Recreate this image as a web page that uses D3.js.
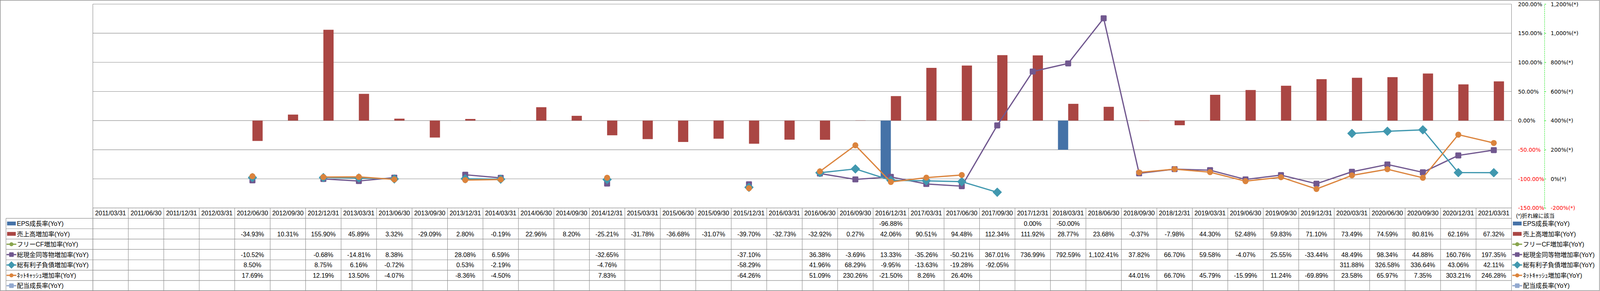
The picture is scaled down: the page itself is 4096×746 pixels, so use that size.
<!DOCTYPE html>
<html><head><meta charset="utf-8">
<script src="https://cdn.jsdelivr.net/npm/d3@7"></script>
<style>html,body{margin:0;padding:0;background:#fff;overflow:hidden}</style>
</head><body><svg id="c" width="4096" height="746"></svg>
<script>
const dates = ["2011/03/31","2011/06/30","2011/12/31","2012/03/31","2012/06/30","2012/09/30","2012/12/31","2013/03/31","2013/06/30","2013/09/30","2013/12/31","2014/03/31","2014/06/30","2014/09/30","2014/12/31","2015/03/31","2015/06/30","2015/09/30","2015/12/31","2016/03/31","2016/06/30","2016/09/30","2016/12/31","2017/03/31","2017/06/30","2017/09/30","2017/12/31","2018/03/31","2018/06/30","2018/09/30","2018/12/31","2019/03/31","2019/06/30","2019/09/30","2019/12/31","2020/03/31","2020/06/30","2020/09/30","2020/12/31","2021/03/31"];
const epsGrowth = [null,null,null,null,null,null,null,null,null,null,null,null,null,null,null,null,null,null,null,null,null,null,-96.88,null,null,null,0.00,-50.00,null,null,null,null,null,null,null,null,null,null,null,null];
const salesGrowth = [null,null,null,null,-34.93,10.31,155.90,45.89,3.32,-29.09,2.80,-0.19,22.96,8.20,-25.21,-31.78,-36.68,-31.07,-39.70,-32.73,-32.92,0.27,42.06,90.51,94.48,112.34,111.92,28.77,23.68,-0.37,-7.98,44.30,52.48,59.83,71.10,73.49,74.59,80.81,62.16,67.32];
const freeCFGrowth = [null,null,null,null,null,null,null,null,null,null,null,null,null,null,null,null,null,null,null,null,null,null,null,null,null,null,null,null,null,null,null,null,null,null,null,null,null,null,null,null];
const cashGrowth = [null,null,null,null,-10.52,null,-0.68,-14.81,8.38,null,28.08,6.59,null,null,-32.65,null,null,null,-37.10,null,36.38,-3.69,13.33,-35.26,-50.21,367.01,736.99,792.59,1102.41,37.82,66.70,59.58,-4.07,25.55,-33.44,48.49,98.34,44.88,160.76,197.35];
const debtGrowth = [null,null,null,null,8.50,null,8.75,6.16,-0.72,null,0.53,-2.19,null,null,-4.76,null,null,null,-58.29,null,41.96,68.29,-9.95,-13.63,-19.28,-92.05,null,null,null,null,null,null,null,null,null,311.88,326.58,336.64,43.06,42.11];
const netCashGrowth = [null,null,null,null,17.69,null,12.19,13.50,-4.07,null,-8.36,-4.50,null,null,7.83,null,null,null,-64.26,null,51.09,230.26,-21.50,8.26,26.40,null,null,null,null,44.01,66.70,45.79,-15.99,11.24,-69.89,23.58,65.97,7.35,303.21,246.28];
const dividendGrowth = [null,null,null,null,null,null,null,null,null,null,null,null,null,null,null,null,null,null,null,null,null,null,null,null,null,null,null,null,null,null,null,null,null,null,null,null,null,null,null,null];
const seriesNames = ["EPS成長率(YoY)","売上高増加率(YoY)","フリーCF増加率(YoY)","総現金同等物増加率(YoY)","総有利子負債増加率(YoY)","ﾈｯﾄｷｬｯｼｭ増加率(YoY)","配当成長率(YoY)"];
const leftTicks = [-150,-100,-50,0,50,100,150,200];
const rightTicks = [-200,0,200,400,600,800,1000,1200];
const noteText = "(*)折れ線に該当";

const allSeries = [epsGrowth, salesGrowth, freeCFGrowth, cashGrowth, debtGrowth, netCashGrowth, dividendGrowth];
const colors = ["#4572A7","#AA4643","#89A54E","#71588F","#4198AF","#DB843D","#93A9CF"];
const kinds = ["bar","bar","circle","square","diamond","circle","square"];

const loc = d3.formatLocale({decimal: ".", thousands: ",", grouping: [3], currency: ["", ""], minus: "-"});

const S = 4096/5877;
const svg = d3.select("#c");
const g = svg.append("g").attr("transform", `scale(${S})`);
const FONT = "'Liberation Sans','Noto Sans CJK JP',sans-serif";
const AXFONT = "'DejaVu Sans',sans-serif";
const GRID = "#8a8a8a";

const PL = 341, PR = 5552, PT = 15, PB = 765;
const x = d3.scaleBand().domain(dates).range([PL, PR]);
const yL = d3.scaleLinear().domain([-150, 200]).range([PB, PT]);
const yR = d3.scaleLinear().domain([-200, 1200]).range([PB, PT]);
const rowTop = 803, rowBot = 1070, rowH = (rowBot - rowTop) / 7;
const rowC = i => rowTop + rowH * (i + 0.5);

// outer border
g.append("rect").attr("x", 1).attr("y", 1).attr("width", 5874).attr("height", 1068)
  .attr("fill", "none").attr("stroke", GRID).attr("stroke-width", 2);

// gridlines
g.append("g").selectAll("line").data(leftTicks).join("line")
  .attr("x1", PL).attr("x2", PR).attr("y1", d => yL(d)).attr("y2", d => yL(d))
  .attr("stroke", GRID).attr("stroke-width", 1.6);
g.append("line").attr("x1", PL).attr("x2", PL).attr("y1", PT).attr("y2", rowBot).attr("stroke", GRID).attr("stroke-width", 1.6);
g.append("line").attr("x1", PR).attr("x2", PR).attr("y1", PT).attr("y2", rowBot).attr("stroke", GRID).attr("stroke-width", 1.6);

// bars
const bw = x.bandwidth() * 0.288;
[0, 1].forEach(si => {
  const data = allSeries[si].map((v, i) => ({ d: dates[i], v })).filter(o => o.v != null);
  g.append("g").selectAll("rect").data(data).join("rect")
    .attr("x", o => x(o.d) + x.bandwidth() / 2 + (si === 0 ? -bw : 0))
    .attr("width", bw)
    .attr("y", o => Math.min(yL(o.v), yL(0)))
    .attr("height", o => Math.abs(yL(o.v) - yL(0)))
    .attr("fill", colors[si]);
});

function marker(sel, kind, size, color) {
  if (kind === "circle") {
    sel.append("circle").attr("r", size / 2).attr("fill", color);
  } else if (kind === "square") {
    sel.append("rect").attr("x", -size / 2).attr("y", -size / 2).attr("width", size).attr("height", size)
      .attr("rx", size * 0.14).attr("fill", color);
  } else if (kind === "diamond") {
    const h = size * 0.72;
    sel.append("path").attr("d", `M0,${-h}L${h},0L0,${h}L${-h},0Z`).attr("fill", color)
      .attr("stroke", color).attr("stroke-width", 2).attr("stroke-linejoin", "round");
  }
}

// lines
const line = d3.line().defined(d => d.v != null).x(d => x(d.d) + x.bandwidth() / 2).y(d => yR(d.v));
[2, 3, 4, 5, 6].forEach(si => {
  const data = allSeries[si].map((v, i) => ({ d: dates[i], v }));
  const sg = g.append("g");
  sg.append("path").datum(data).attr("d", line).attr("fill", "none")
    .attr("stroke", colors[si]).attr("stroke-width", 4.6).attr("stroke-linejoin", "round");
  data.filter(o => o.v != null).forEach(o => {
    const m = sg.append("g").attr("transform", `translate(${x(o.d) + x.bandwidth() / 2},${yR(o.v)})`);
    marker(m, kinds[si], 22, colors[si]);
  });
});

// left axis labels
const axL = g.append("g").attr("transform", `translate(5576,0)`)
  .call(d3.axisRight(yL).tickValues(leftTicks).tickSize(0).tickPadding(0).tickFormat(d => d.toFixed(2) + "%"));
axL.select(".domain").remove();
axL.selectAll("text").attr("font-family", AXFONT).attr("font-size", 20).attr("dy", "0.35em")
  .attr("fill", d => d < 0 ? "#FF0000" : "#000");

// right axis
const axR = g.append("g").attr("transform", `translate(5673,0)`)
  .call(d3.axisRight(yR).tickValues(rightTicks).tickSize(6).tickSizeOuter(0).tickPadding(17)
    .tickFormat(d => loc.format(",")(d) + "%(*)"));
axR.select(".domain").attr("stroke", "#00E000").attr("stroke-width", 1.6).attr("stroke-dasharray", "4,3");
axR.selectAll(".tick line").attr("stroke", "#00E000").attr("stroke-width", 1.6);
axR.selectAll("text").attr("font-family", AXFONT).attr("font-size", 20).attr("dy", "0.35em")
  .attr("fill", d => d < 0 ? "#FF0000" : "#000");

// table grid
const tg = g.append("g").attr("stroke", GRID).attr("stroke-width", 1.6);
d3.range(8).forEach(i => {
  const y = rowTop + rowH * i;
  tg.append("line").attr("x1", 22).attr("x2", PR).attr("y1", y).attr("y2", y);
});
tg.append("line").attr("x1", 22).attr("x2", 22).attr("y1", rowTop).attr("y2", rowBot);
dates.forEach(d => {
  tg.append("line").attr("x1", x(d)).attr("x2", x(d)).attr("y1", PB).attr("y2", rowBot);
});

// header
g.append("g").selectAll("text").data(dates).join("text")
  .attr("x", d => x(d) + x.bandwidth() / 2).attr("y", (PB + rowTop) / 2)
  .attr("text-anchor", "middle").attr("dominant-baseline", "central")
  .attr("font-family", FONT).attr("font-size", 23).attr("fill", "#000").text(d => d);

// cells
const fmt = v => loc.format(",.2f")(v) + "%";
allSeries.forEach((arr, si) => {
  g.append("g").selectAll("text").data(arr.map((v, i) => ({ d: dates[i], v })).filter(o => o.v != null)).join("text")
    .attr("x", o => x(o.d) + x.bandwidth() / 2).attr("y", rowC(si))
    .attr("text-anchor", "middle").attr("dominant-baseline", "central")
    .attr("font-family", FONT).attr("font-size", 23).attr("fill", "#000").text(o => fmt(o.v));
});

// legend entries (table and right side)
function legendKey(sel, si, x0, x1, cy) {
  if (kinds[si] === "bar") {
    sel.append("rect").attr("x", x0 + 2).attr("y", cy - 7).attr("width", x1 - x0 - 4).attr("height", 14).attr("fill", colors[si]);
  } else {
    sel.append("line").attr("x1", x0).attr("x2", x1).attr("y1", cy).attr("y2", cy)
      .attr("stroke", colors[si]).attr("stroke-width", 4.6);
    const m = sel.append("g").attr("transform", `translate(${(x0 + x1) / 2},${cy})`);
    marker(m, kinds[si], kinds[si] === "circle" ? 15 : 17, colors[si]);
  }
}
seriesNames.forEach((name, si) => {
  const cy = rowC(si);
  legendKey(g, si, 24, 60, cy);
  g.append("text").attr("x", 62).attr("y", cy).attr("dominant-baseline", "central")
    .attr("font-family", FONT).attr("font-size", 23).attr("fill", "#000").text(name);
  legendKey(g, si, 5555, 5591, cy);
  g.append("text").attr("x", 5594).attr("y", cy).attr("dominant-baseline", "central")
    .attr("font-family", FONT).attr("font-size", 23).attr("fill", "#000").text(name);
});
g.append("text").attr("x", 5569).attr("y", 793).attr("dominant-baseline", "central")
  .attr("font-family", FONT).attr("font-size", 20).attr("fill", "#000").text(noteText);
</script></body></html>
